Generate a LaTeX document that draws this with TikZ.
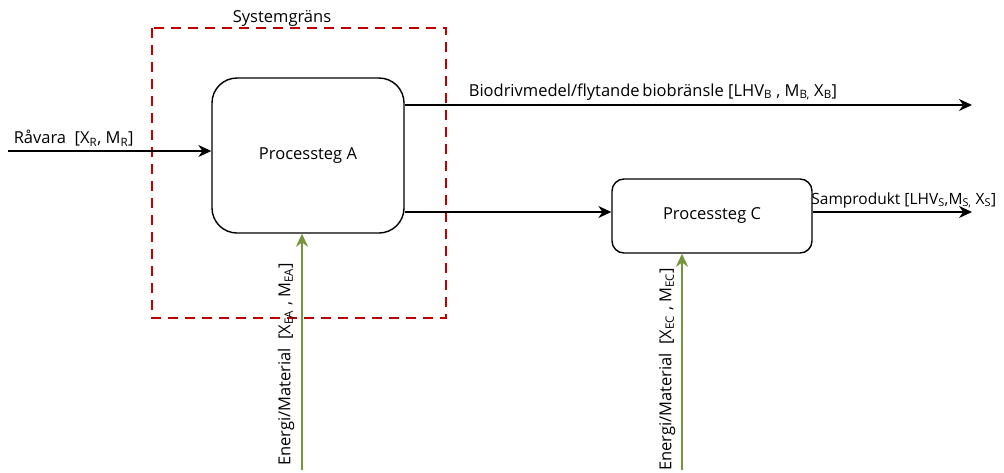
\documentclass[tikz,border=0pt]{standalone}
\usepackage{fontspec}
\setmainfont{Open Sans}
\usetikzlibrary{arrows.meta}
\definecolor{grans}{RGB}{192,0,0}
\definecolor{energi}{RGB}{119,147,60}
\tikzset{
  steg/.style={draw, line width=1.4pt, rounded corners=#1, inner sep=0pt},
  flode/.style={line width=1.4pt, -{Stealth[length=13pt,width=12pt]}},
  tillfort/.style={draw=energi, line width=2.2pt, -{Stealth[length=13pt,width=12pt]}},
  etikett/.style={font=\fontsize{16.5}{19}\selectfont, inner sep=1pt}
}
\begin{document}
\begin{tikzpicture}[x=1pt,y=-1pt]
 	\useasboundingbox (0,0) rectangle (1004,472);
 	% systemgräns
 	\draw[grans, line width=1.5pt, dash pattern=on 10pt off 7pt] (152,28) rectangle (446,318);
 	\node (SG)[etikett, anchor=south] at (282,28) {Systemgräns};
 
 	\node (A)[steg=25pt, minimum width=192pt, minimum height=155pt, etikett] at (308,155.5) {Processteg A};
 	\node (C)[steg=12pt, minimum width=200pt, minimum height=74pt, etikett] at (712,216) {Processteg C};
 
 	\coordinate (in) at (8,151);
 	\coordinate (bio) at (972,105);
 	\coordinate (sam) at (972,212);
 	\coordinate (eA) at (302,470);
 	\coordinate (eC) at (682,470);
 
 	\draw[flode] (in) -- (in -| A.west)
 	node[etikett, pos=0.02, anchor=south west, yshift=3pt]{Råvara\ \ [X\textsubscript{R}, M\textsubscript{R}]};
 	\draw[flode] (bio -| A.east) -- (bio)
 	node[etikett, pos=0.11, anchor=south west, yshift=3pt]{Biodrivmedel/flytande\,biobränsle [LHV\textsubscript{B} , M\textsubscript{B,} X\textsubscript{B}]};
 	\draw[flode] (sam -| A.east) -- (sam -| C.west);
 	\draw[flode] (sam -| C.east) -- (sam)
 	node[etikett, font=\fontsize{15.5}{18}\selectfont, pos=0, anchor=south west, xshift=-3pt, yshift=2pt]{Samprodukt [LHV\textsubscript{S},M\textsubscript{S,} X\textsubscript{S}]};
 
 	\draw[tillfort] (eA) -- (eA |- A.south);
 	\node (LA)[etikett, rotate=90, anchor=west] at (286,467) {Energi/Material\ \ [X\textsubscript{EA} , M\textsubscript{EA}]};
 	\draw[tillfort] (eC) -- (eC |- C.south);
 	\node (LC)[etikett, rotate=90, anchor=west] at (667,472) {Energi/Material\ \ [X\textsubscript{EC} , M\textsubscript{EC}]};
 \end{tikzpicture}
\end{document}
